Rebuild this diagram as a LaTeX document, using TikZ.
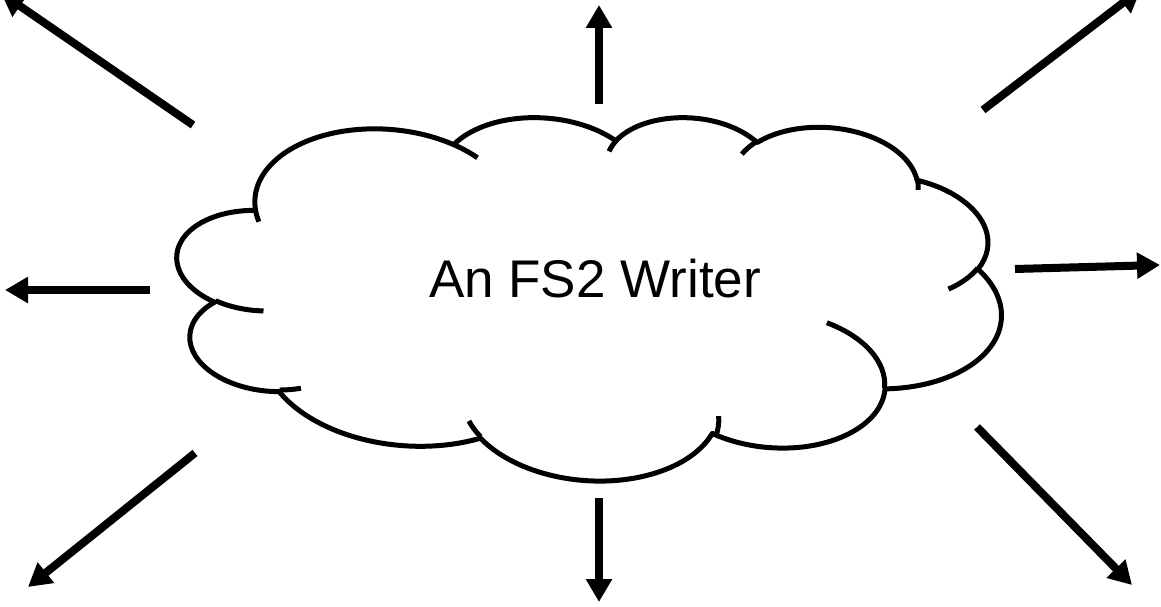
\documentclass[tikz,border=0pt]{standalone}
\usepackage{fontspec}
\setmainfont{Liberation Sans}
\usetikzlibrary{arrows.meta}
\begin{document}
\begin{tikzpicture}[x=1pt,y=1pt,
  declare function={vp(\a,\p,\q)=atan2(\p*sin(\a),\q*cos(\a));
                    dp(\a,\s,\p,\q)=mod(vp(\a+\s,\p,\q)-vp(\a,\p,\q)+720,360);},
  ooa/.style n args={4}{x radius=#1, y radius=#2, start angle={vp(#3,#1,#2)}, delta angle={dp(#3,#4,#1,#2)}},
  ray/.style={line width=8pt, -{Triangle[width=25pt,length=23pt]}},
  cloudline/.style={line width=5pt, line join=round},
  label/.style={font=\fontsize{53}{60}\selectfont, anchor=base, inner sep=0pt}]
\useasboundingbox (0,0) rectangle (1161,-607);
\clip (0,0) rectangle (1161,-607);

% cloud (rotated slightly)
\begin{scope}[shift={(588.7,-294.5)}, rotate=-4, x=1.91204pt, y=-0.854167pt, shift={(-216,-216)}]
  \draw[cloudline] (39.00,143.70)
    arc[ooa={67.53}{91.90}{-190.4875}{123.7805}]
    arc[ooa={53.33}{72.67}{-144.1024}{89.9452}]
    arc[ooa={43.65}{59.45}{-145.8079}{99.7230}]
    arc[ooa={48.57}{65.95}{-130.9861}{117.2417}]
    arc[ooa={53.33}{72.73}{-78.7089}{109.0269}]
    arc[ooa={67.75}{92.20}{-46.2673}{130.2690}]
    arc[ooa={57.85}{78.67}{0.6250}{114.0333}]
    arc[ooa={67.52}{92.15}{22.4516}{115.1726}]
    arc[ooa={77.20}{105.43}{66.2426}{75.7110}]
    arc[ooa={43.60}{59.18}{-274.9421}{146.7356}]
    arc[ooa={43.45}{59.45}{-246.8285}{152.5189}]
    -- cycle;
  \draw[cloudline] (46.93,261.77) arc[ooa={43.45}{59.45}{86.7420}{26.4295}];
  \draw[cloudline] (69.28,348.99) arc[ooa={43.60}{59.18}{73.6105}{11.4475}];
  \draw[cloudline] (164.78,390.90) arc[ooa={67.52}{92.15}{137.6242}{14.0811}];
  \draw[cloudline] (288.27,347.51) arc[ooa={67.52}{92.15}{-6.4533}{20.8895}];
  \draw[cloudline] (341.29,229.54) arc[ooa={57.85}{78.67}{-70.2924}{70.9174}];
  \draw[cloudline] (417.98,153.54) arc[ooa={53.33}{72.73}{30.3180}{27.7515}];
  \draw[cloudline] (383.24,54.26) arc[ooa={48.57}{65.95}{-13.7443}{14.8589}];
  \draw[cloudline] (290.78,39.52) arc[ooa={48.57}{65.95}{-149.1815}{18.1954}];
  \draw[cloudline] (221.41,47.20) arc[ooa={43.65}{59.45}{-163.4943}{17.6864}];
  \draw[cloudline] (140.00,51.92) arc[ooa={67.53}{91.90}{-66.7070}{12.3194}];
  \draw[cloudline] (41.27,157.89) arc[ooa={67.53}{91.90}{157.6544}{11.8582}];
\end{scope}

\node[label] (title) at (595,-297) {An FS2 Writer};

% arrows
\coordinate (nS) at (599,-104);  \coordinate (nE) at (599,-5);
\coordinate (sS) at (599,-498);  \coordinate (sE) at (599,-602);
\coordinate (wS) at (150,-290);  \coordinate (wE) at (5,-290);
\coordinate (eS) at (1015,-269); \coordinate (eE) at (1160,-265);
\coordinate (nwS) at (193,-125); \coordinate (nwE) at (1,7);
\coordinate (neS) at (983,-110); \coordinate (neE) at (1141,11);
\coordinate (swS) at (195,-453); \coordinate (swE) at (28,-587);
\coordinate (seS) at (977,-427); \coordinate (seE) at (1132,-585);
\draw[ray] (nS) -- (nE);
\draw[ray] (sS) -- (sE);
\draw[ray] (wS) -- (wE);
\draw[ray] (eS) -- (eE);
\draw[ray] (nwS) -- (nwE);
\draw[ray] (neS) -- (neE);
\draw[ray] (swS) -- (swE);
\draw[ray] (seS) -- (seE);
\end{tikzpicture}
\end{document}
